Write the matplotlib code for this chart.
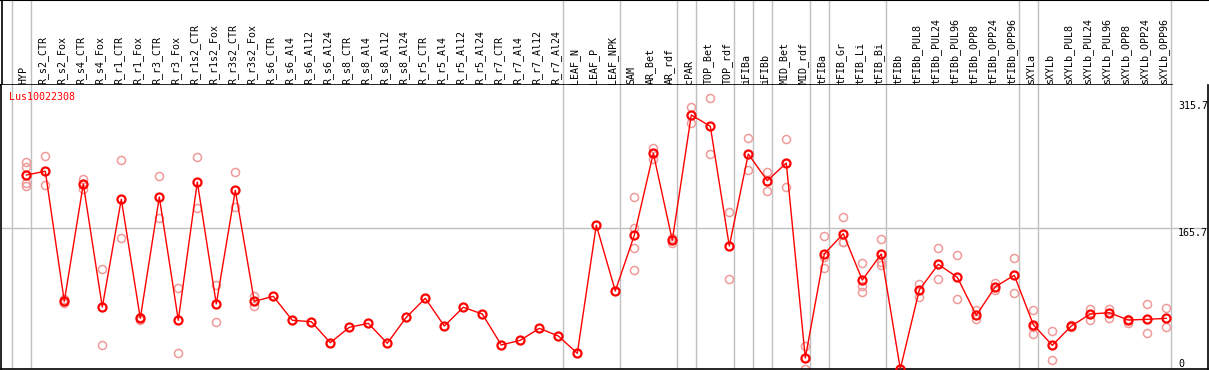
import matplotlib
matplotlib.use('Agg')
import matplotlib.pyplot as plt
import matplotlib.transforms as mtransforms

# ---------------------------- data ---------------------------- #
gene = 'Lus10022308'

samples = ['HYP', 'R_s2_CTR', 'R_s2_Fox', 'R_s4_CTR', 'R_s4_Fox', 'R_r1_CTR', 'R_r1_Fox',
           'R_r3_CTR', 'R_r3_Fox', 'R_r1s2_CTR', 'R_r1s2_Fox', 'R_r3s2_CTR', 'R_r3s2_Fox',
           'R_s6_CTR', 'R_s6_Al4', 'R_s6_Al12', 'R_s6_Al24', 'R_s8_CTR', 'R_s8_Al4',
           'R_s8_Al12', 'R_s8_Al24', 'R_r5_CTR', 'R_r5_Al4', 'R_r5_Al12', 'R_r5_Al24',
           'R_r7_CTR', 'R_r7_Al4', 'R_r7_Al12', 'R_r7_Al24', 'LEAF_N', 'LEAF_P', 'LEAF_NPK',
           'SAM', 'AR_Bet', 'AR_rdf', 'cPAR', 'TOP_Bet', 'TOP_rdf', 'iFIBa', 'iFIBb',
           'MID_Bet', 'MID_rdf', 'tFIBa', 'tFIB_Gr', 'tFIB_Li', 'tFIB_Bi', 'tFIBb',
           'tFIBb_PUL8', 'tFIBb_PUL24', 'tFIBb_PUL96', 'tFIBb_OPP8', 'tFIBb_OPP24', 'tFIBb_OPP96',
           'sXYLa', 'sXYLb', 'sXYLb_PUL8', 'sXYLb_PUL24', 'sXYLb_PUL96', 'sXYLb_OPP8',
           'sXYLb_OPP24', 'sXYLb_OPP96']

means = [228.5, 232.9, 79.7, 217.9, 73.0, 199.9, 59.7, 202.6, 57.4, 220.3, 76.6, 210.5, 79.7,
         85.6, 57.4, 55.7, 31.0, 49.1, 53.8, 30.3, 60.9, 83.3, 50.6, 72.7, 64.8,
         28.3, 33.8, 47.9, 38.9, 18.5, 169.3, 91.9,
         157.5, 254.1, 151.6, 299.2, 285.9, 144.9, 253.2, 221.8, 242.6, 13.0,
         135.5, 159.4, 104.8, 135.5, 0.0,
         93.1, 123.3, 108.0, 63.3, 96.9, 110.4,
         52.2, 27.9, 50.6, 64.8, 66.3, 57.7, 58.5, 59.7]

replicates = [[243.8, 238.3, 218.7, 215.6], [250.9, 216.4], [82.5, 77.7, 80.0], [224.2, 211.7, 218.0],
              [117.8, 28.3], [245.8, 154.0], [58.0, 61.0], [227.0, 177.5], [95.0, 18.8],
              [249.4, 189.3], [98.9, 55.0], [232.0, 190.5], [86.0, 73.9],
              [], [], [], [], [], [], [], [], [], [], [], [],
              [], [], [], [], [], [], [],
              [202.2, 166.4, 142.9, 116.3], [260.0, 247.0], [154.3, 148.4], [308.6, 289.8],
              [319.2, 252.9], [184.6, 105.7], [271.7, 234.4], [231.7, 209.3], [270.6, 214.0],
              [27.1, -0.4],
              [156.3, 132.3, 118.6], [179.0, 150.0, 149.5], [124.5, 97.8, 90.7],
              [153.1, 126.4, 122.5], [0.0],
              [100.1, 85.2], [142.2, 105.7], [133.9, 82.1], [69.5, 58.5], [101.7, 93.0],
              [130.4, 89.2],
              [69.5, 49.1, 40.9], [44.8, 10.6], [51.8, 49.1], [71.0, 57.7], [71.0, 59.7],
              [59.2, 54.5], [76.6, 42.0], [71.5, 49.1]]

group_ends = [-1, 0, 28, 31, 34, 35, 37, 38, 39, 41, 42, 45, 52, 53, 60]  # last sample of each group
scale_labels = [315.7, 165.7, 0]

# ---------------------------- layout ---------------------------- #
W, H = 1209, 370
x0, dx = 26.3, 19.0          # pixel of first sample, pixel step
y_max = 334.5                # value at top of plot area


def px2i(p):
    return (p - x0) / dx


plt.rcParams['font.family'] = 'DejaVu Sans Mono'
plt.rcParams['font.size'] = 7.2

fig = plt.figure(figsize=(W / 100, H / 100), dpi=100)

# header with sample names
hax = fig.add_axes([0, (H - 85) / H, 1, 85 / H])
hax.set_xlim(px2i(0), px2i(W))
hax.set_ylim(0, 85)
hax.axis('off')
for i, s in enumerate(samples):
    hax.text(i - 0.13, 1.5, s, rotation=90, ha='center', va='bottom', color='black')
for g in group_ends:
    hax.axvline(g + 0.23, color='#c0c0c0', lw=1)
hax.plot([px2i(0), px2i(1172)], [0.3, 0.3], color='black', lw=1.2, clip_on=False)
hax.plot([px2i(0), px2i(W)], [84.6, 84.6], color='black', lw=1.5, clip_on=False)
hax.plot([px2i(1.5), px2i(1.5)], [0, 85], color='black', lw=1.2, clip_on=False)

# main plot
ax = fig.add_axes([1 / W, 1 / H, 1206.5 / W, 284 / H])
ax.set_xlim(px2i(1), px2i(1207.5))
ax.set_ylim(0, y_max)
ax.set_xticks([])
ax.set_yticks([])
for sp in ax.spines.values():
    sp.set_linewidth(1.2)
    sp.set_color('black')
ax.spines['top'].set_visible(False)

for g in group_ends:
    ax.axvline(g + 0.23, color='#c0c0c0', lw=1, zorder=1)
ax.axhline(scale_labels[1], color='#c0c0c0', lw=1, zorder=1)

rx, ry = [], []
for i, reps in enumerate(replicates):
    for r in reps:
        rx.append(i)
        ry.append(r)
ax.plot(rx, ry, linestyle='none', marker='o', ms=5.8, mfc='none', mec='#f09a9a', mew=1.1, zorder=2)

ax.plot(range(len(means)), means, color='red', lw=1, marker='o', ms=5.8, mfc='none',
        mec='red', mew=1.6, zorder=3)

trans = mtransforms.blended_transform_factory(fig.transFigure, ax.transData)
for v in scale_labels:
    lab = ('%g' % v)
    ax.text(1178 / W, v, lab, transform=trans, ha='left',
            va='bottom' if v == 0 else 'top', color='black', clip_on=False)

fig.text(9 / W, 1 - 97 / H, gene, color='red', ha='left', va='center')

fig.savefig('out.png', dpi=100)
